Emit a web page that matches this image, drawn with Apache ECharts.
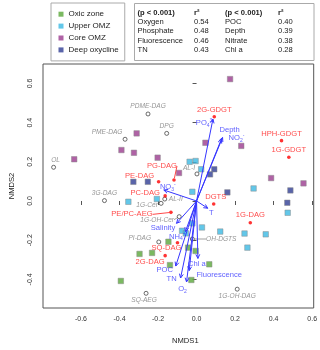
<!DOCTYPE html>
<html>
<head>
<meta charset="utf-8">
<script src="https://cdn.jsdelivr.net/npm/echarts@6/dist/echarts.min.js"></script>
<style>
html, body { margin: 0; padding: 0; background: #fff; }
#chart { width: 320px; height: 350px; }
</style>
</head>
<body>
<div id="chart"></div>
<script>
// axis ticks
var xTicks = [-0.6, -0.4, -0.2, 0, 0.2, 0.4, 0.6];
var yTicks = [-0.4, -0.2, 0, 0.2, 0.4, 0.6];

// samples (NMDS1, NMDS2)
var oxicZone = [[-0.296, -0.270], [-0.231, -0.265], [-0.393, -0.408], [-0.146, -0.208], [-0.044, -0.238],
  [-0.005, -0.255], [-0.138, -0.327], [0.066, -0.323], [-0.027, -0.403]];
var upperOMZ = [[-0.354, -0.004], [-0.206, 0.010], [-0.036, 0.200], [-0.005, 0.204], [0.024, 0.162],
  [-0.022, 0.047], [0.296, 0.064], [-0.022, -0.114], [-0.075, -0.152], [-0.056, -0.165], [0.028, -0.135],
  [0.123, -0.156], [0.249, -0.166], [0.359, -0.170], [0.264, -0.238], [0.473, -0.060]];
var coreOMZ = [[-0.635, 0.213], [-0.390, 0.260], [-0.325, 0.246], [-0.311, 0.345], [-0.202, 0.221],
  [0.046, 0.297], [0.174, 0.622], [0.232, 0.281], [-0.091, 0.143], [0.387, 0.117], [0.555, 0.090]];
var deepOxycline = [[-0.328, 0.098], [-0.253, 0.098], [0.092, 0.162], [0.070, 0.136], [0.160, 0.044],
  [0.487, 0.054], [0.471, -0.009]];

// lipids not significant (grey) and significant (red)
var greyLipids = ['OL', 'PDME-DAG', 'DPG', 'PME-DAG', '3G-DAG', '1G-Cer', 'AL-II', 'AL-I', '1G-OH-Cer', 'PI-DAG', 'SQ-AEG', 'OH-DGTS', '1G-OH-DAG'];
var greyX = [-0.742, -0.252, -0.155, -0.371, -0.478, -0.184, -0.165, 0.002, -0.090, -0.196, -0.262, -0.022, 0.211];
var greyY = [0.172, 0.444, 0.345, 0.315, 0.002, -0.012, 0.010, 0.138, -0.080, -0.209, -0.471, -0.194, -0.450];

var redLipids = ['2G-GDGT', 'HPH-GDGT', '1G-GDGT', 'PG-DAG', 'PE-DAG', 'PC-DAG', 'PE/PC-AEG', 'DGTS', '1G-DAG', 'SQ-DAG', '2G-DAG'];
var redX = [0.092, 0.441, 0.479, -0.117, -0.197, -0.163, -0.133, 0.089, 0.279, -0.099, -0.163];
var redY = [0.430, 0.308, 0.223, 0.107, 0.098, 0.026, -0.058, -0.015, -0.111, -0.213, -0.279];

// environmental vectors
var vectors = ['PO4', 'Depth', 'NO2', 'NO3', 'T', 'Salinity', 'NH4', 'POC', 'TN', 'O2', 'Fluorescence', 'Chl a'];
var vectorX = [0.085, 0.135, 0.129, -0.170, 0.058, -0.104, -0.058, -0.108, -0.083, -0.052, -0.038, 0.007];
var vectorY = [0.418, 0.324, 0.316, 0.056, -0.037, -0.114, -0.156, -0.332, -0.393, -0.413, -0.355, -0.293];

// fit table
var fitNames1 = ['Oxygen', 'Phosphate', 'Fluorescence', 'TN'];
var fitR1 = ['0.54', '0.48', '0.46', '0.43'];
var fitNames2 = ['POC', 'Depth', 'Nitrate', 'Chl a'];
var fitR2 = ['0.40', '0.39', '0.38', '0.28'];

var FONT = 'Liberation Sans, Arial, sans-serif';
var BLUE = '#3535ff';

// label offsets (px, label centre relative to the mark)
var labelShift = {
  'OL': [2, -7], 'PDME-DAG': [0, -8], 'DPG': [0, -7.5], 'PME-DAG': [-18, -7], '3G-DAG': [0, -7],
  '1G-Cer': [-14, 1.5], 'AL-II': [11, 0], 'AL-I': [-8, -6], '1G-OH-Cer': [-22, 3], 'PI-DAG': [-19, -4],
  'SQ-AEG': [-2, 7], 'OH-DGTS': [29, 0], '1G-OH-DAG': [0, 7],
  '2G-GDGT': [0, -7], 'HPH-GDGT': [0, -7], '1G-GDGT': [0, -7], 'PG-DAG': [-12, -14], 'PE-DAG': [-19, -6],
  'PC-DAG': [-20, -3], 'PE/PC-AEG': [-39, 2], 'DGTS': [2, -7], '1G-DAG': [0, -7.5], 'SQ-DAG': [-11, 5.6],
  '2G-DAG': [-15, 6],
  'PO4': [-8, 4], 'Depth': [7, -8], 'NO2': [15, -1], 'NO3': [4, -3], 'T': [3.5, 4.5], 'Salinity': [-13.5, 5],
  'NH4': [-8, 5], 'POC': [-11, 4], 'TN': [-9, 1], 'O2': [-4, 7], 'Fluorescence': [30, 4.5], 'Chl a': [-1, 5]
};
var leader = ['PG-DAG', 'PE/PC-AEG', 'OH-DGTS', '1G-OH-Cer'];

var vectorText = {
  'PO4': '{t|PO}{s|4}{p|3-}', 'NO2': '{t|NO}{s|2}{p|-}', 'NO3': '{t|NO}{s|3}{p|-}',
  'NH4': '{t|NH}{s|4}{p|+}', 'O2': '{t|O}{s|2}'
};

function lipidData(names, xs, ys, withLeader) {
  var out = [];
  for (var i = 0; i < names.length; i++) {
    if ((leader.indexOf(names[i]) >= 0) === withLeader) {
      out.push({ name: names[i], value: [xs[i], ys[i]] });
    }
  }
  return out;
}

function shiftLayout(data) {
  return function (p) {
    var s = labelShift[data[p.dataIndex].name] || [0, 0];
    return { dx: s[0], dy: s[1] };
  };
}

function lipidSeries(names, xs, ys, withLeader, red) {
  var txt = red ? { color: '#ff1a1a', fontSize: 7.6, fontStyle: 'normal' } : { color: '#7a7a7a', fontSize: 6.6, fontStyle: 'italic' };
  var data = lipidData(names, xs, ys, withLeader);
  var s = {
    type: 'scatter',
    data: data,
    symbol: 'circle',
    symbolSize: red ? 3.6 : 4,
    itemStyle: red ? { color: '#ff0000' } : { color: '#fff', borderColor: '#333', borderWidth: 0.9 },
    label: {
      show: true, position: 'inside', formatter: '{b}', fontFamily: FONT,
      color: txt.color, fontSize: txt.fontSize, fontStyle: txt.fontStyle
    },
    labelLayout: shiftLayout(data),
    emphasis: { disabled: true },
    silent: true,
    z: 4
  };
  if (withLeader) {
    s.labelLine = { show: true, lineStyle: { color: red ? '#ff1a1a' : '#888', width: 0.8 } };
  }
  return s;
}

function sampleSeries(name, data, color) {
  return {
    name: name, type: 'scatter', data: data, symbol: 'rect', symbolSize: 5.5,
    itemStyle: { color: color, borderColor: '#8a8a8a', borderWidth: 0.6 },
    emphasis: { disabled: true }, silent: true, z: 3
  };
}

var arrowData = vectors.map(function (n, i) { return [vectorX[i], vectorY[i]]; });
var arrowTips = vectors.map(function (n, i) {
  return { name: n, value: [vectorX[i], vectorY[i]] };
});

// arrow from the origin to the vector tip, open head like R's arrows()
function renderArrow(params, api) {
  var o = api.coord([0, 0]);
  var t = api.coord([api.value(0), api.value(1)]);
  var a = Math.atan2(t[1] - o[1], t[0] - o[0]);
  var L = 4.5, w = 0.45;
  var h1 = [t[0] - L * Math.cos(a - w), t[1] - L * Math.sin(a - w)];
  var h2 = [t[0] - L * Math.cos(a + w), t[1] - L * Math.sin(a + w)];
  var st = { stroke: BLUE, lineWidth: 1, fill: null };
  return {
    type: 'group',
    children: [
      { type: 'line', shape: { x1: o[0], y1: o[1], x2: t[0], y2: t[1] }, style: st },
      { type: 'polyline', shape: { points: [h1, t, h2] }, style: st }
    ]
  };
}

function buildTable() {
  var els = [{ type: 'rect', shape: { x: 134.5, y: 3.5, width: 179.5, height: 57 }, style: { fill: '#fff', stroke: '#aaa', lineWidth: 1 } }];
  var cols = [137.5, 194, 225, 278];
  var rowY = [12.5, 22, 31.3, 40.6, 50];
  function t(x, y, s, bold) {
    els.push({ type: 'text', x: x, y: y, style: { text: s, fill: '#222', font: (bold ? 'bold ' : '') + '7.6px ' + FONT, textVerticalAlign: 'middle' } });
  }
  t(cols[0], rowY[0], '(p < 0.001)', true);
  t(cols[1], rowY[0], 'r\u00b2', true);
  t(cols[2], rowY[0], '(p < 0.001)', true);
  t(cols[3], rowY[0], 'r\u00b2', true);
  for (var i = 0; i < fitNames1.length; i++) {
    t(cols[0], rowY[i + 1], fitNames1[i]);
    t(cols[1], rowY[i + 1], fitR1[i]);
    t(cols[2], rowY[i + 1], fitNames2[i]);
    t(cols[3], rowY[i + 1], fitR2[i]);
  }
  return els;
}

var chart = echarts.init(document.getElementById('chart'), null, { renderer: 'canvas' });
chart.setOption({
  animation: false,
  textStyle: { fontFamily: FONT },
  grid: { left: 39.3, right: 5.7, top: 64, bottom: 41.5, show: true, borderColor: '#555', borderWidth: 1 },
  legend: {
    left: 51, top: 3, orient: 'vertical', selectedMode: false,
    data: ['Oxic zone', 'Upper OMZ', 'Core OMZ', 'Deep oxycline'],
    icon: 'rect', itemWidth: 5, itemHeight: 5, itemGap: 1.5,
    itemStyle: { borderWidth: 0 },
    padding: [6, 6, 5.8, 7.5], borderColor: '#aaa', borderWidth: 1,
    textStyle: { fontSize: 8, color: '#222', lineHeight: 10.4, fontFamily: FONT }
  },
  xAxis: {
    type: 'value', min: -0.797, max: 0.608,
    axisLine: { show: false }, splitLine: { show: false },
    axisTick: { show: true, customValues: xTicks, length: 4, lineStyle: { color: '#555' } },
    axisLabel: { customValues: xTicks, fontSize: 7, color: '#333', margin: 8, formatter: function (v) { return v.toFixed(1); } },
    name: 'NMDS1', nameLocation: 'middle', nameGap: 29,
    nameTextStyle: { fontSize: 7.6, color: '#222', padding: [0, 0, 0, 14] }
  },
  yAxis: {
    type: 'value', min: -0.546, max: 0.699,
    axisLine: { show: false }, splitLine: { show: false },
    axisTick: { show: true, customValues: yTicks, length: 4, lineStyle: { color: '#555' } },
    axisLabel: { customValues: yTicks, fontSize: 7, color: '#333', margin: 9, rotate: 90, formatter: function (v) { return v.toFixed(1); } },
    name: 'NMDS2', nameLocation: 'middle', nameGap: 27, nameRotate: 90,
    nameTextStyle: { fontSize: 7.6, color: '#222' }
  },
  series: [
    sampleSeries('Oxic zone', oxicZone, '#5aa83a'),
    sampleSeries('Upper OMZ', upperOMZ, '#3bb9e3'),
    sampleSeries('Core OMZ', coreOMZ, '#9b3b8e'),
    sampleSeries('Deep oxycline', deepOxycline, '#2f3d93'),
    lipidSeries(greyLipids, greyX, greyY, false, false),
    lipidSeries(greyLipids, greyX, greyY, true, false),
    lipidSeries(redLipids, redX, redY, false, true),
    lipidSeries(redLipids, redX, redY, true, true),
    {
      type: 'custom', data: arrowData, renderItem: renderArrow, silent: true, z: 5,
      encode: { x: 0, y: 1 }, clip: false
    },
    {
      type: 'scatter', data: arrowTips, symbolSize: 0, silent: true, z: 6,
      label: {
        show: true, position: 'inside', fontFamily: FONT, color: BLUE, fontSize: 7.6,
        formatter: function (p) { return vectorText[p.name] || '{t|' + p.name + '}'; },
        rich: {
          t: { fontSize: 7.6, color: BLUE, fontFamily: FONT, lineHeight: 10 },
          s: { fontSize: 5, color: BLUE, fontFamily: FONT, verticalAlign: 'bottom', lineHeight: 10 },
          p: { fontSize: 5, color: BLUE, fontFamily: FONT, verticalAlign: 'top', lineHeight: 10 }
        }
      },
      labelLayout: shiftLayout(arrowTips)
    }
  ],
  graphic: buildTable()
});
</script>
</body>
</html>
